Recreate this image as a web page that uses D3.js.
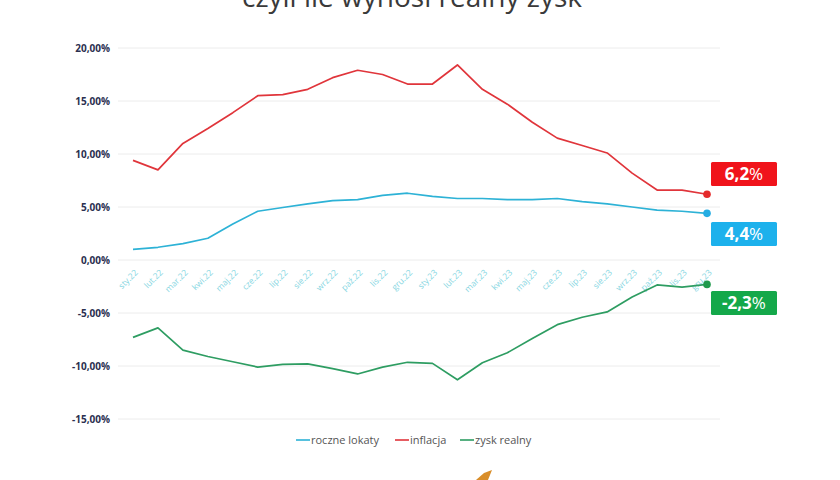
<!DOCTYPE html>
<html>
<head>
<meta charset="utf-8">
<script src="https://cdn.jsdelivr.net/npm/d3@7"></script>
<style>
  html, body { margin: 0; padding: 0; background: #fff; }
  svg { display: block; }
</style>
</head>
<body>
<svg id="chart" width="840" height="480"></svg>
<script>
const months = ["sty.22","lut.22","mar.22","kwi.22","maj.22","cze.22","lip.22","sie.22","wrz.22","paź.22","lis.22","gru.22",
                "sty.23","lut.23","mar.23","kwi.23","maj.23","cze.23","lip.23","sie.23","wrz.23","paź.23","lis.23","gru.23"];
const rocznelokaty = [1.0,1.2,1.55,2.05,3.4,4.6,4.95,5.3,5.6,5.7,6.1,6.3,6.0,5.8,5.8,5.7,5.7,5.8,5.5,5.3,5.0,4.7,4.6,4.4];
const inflacja = [9.4,8.5,11.0,12.4,13.9,15.5,15.6,16.1,17.2,17.9,17.5,16.6,16.6,18.4,16.1,14.7,13.0,11.5,10.8,10.1,8.2,6.6,6.6,6.2];
const zyskRealny = [-7.3,-6.4,-8.5,-9.1,-9.6,-10.1,-9.85,-9.8,-10.25,-10.75,-10.1,-9.65,-9.75,-11.3,-9.7,-8.75,-7.4,-6.1,-5.4,-4.9,-3.5,-2.35,-2.55,-2.3];
const yTicks = [20,15,10,5,0,-5,-10,-15];
const seriesNames = ["roczne lokaty","inflacja","zysk realny"];
const badgeLabels = ["4,4","6,2","-2,3"];
const titleText = "czyli ile wynosi realny zysk";

const svg = d3.select("#chart");
const font = "'Open Sans', 'Noto Sans', sans-serif";

const x = d3.scalePoint().domain(months).range([133, 707]);
const y = d3.scaleLinear().domain([-15, 20]).range([419, 48]);

// title (cut off at top, as in the reference)
svg.append("text").attr("x", 412).attr("y", 7).attr("text-anchor", "middle")
  .attr("font-family", font).attr("font-size", 28).attr("fill", "#3a3a3a").text(titleText);

// gridlines
svg.append("g").selectAll("line").data(yTicks).join("line")
  .attr("x1", 118).attr("x2", 720)
  .attr("y1", d => y(d)).attr("y2", d => y(d))
  .attr("stroke", "#ececec").attr("stroke-width", 1);

// y axis
const yAxis = d3.axisLeft(y).tickValues(yTicks).tickSize(0).tickPadding(0)
  .tickFormat(d => (d < 0 ? "-" : "") + Math.abs(d).toFixed(2).replace(".", ",") + "%");
const gy = svg.append("g").attr("transform", "translate(110,0)").call(yAxis);
gy.select(".domain").remove();
gy.selectAll("text").attr("font-family", font).attr("font-size", 10).attr("font-weight", 700)
  .attr("fill", "#2b3050").attr("dy", "0.35em");

// x axis labels
const xAxis = d3.axisBottom(x).tickSize(0).tickPadding(0);
const gx = svg.append("g").attr("transform", "translate(0,261)").call(xAxis);
gx.select(".domain").remove();
gx.selectAll("text")
  .attr("font-family", font).attr("font-size", 8.5).attr("fill", "#86d6e2")
  .attr("text-anchor", "end").attr("dy", 0).attr("y", 0)
  .attr("transform", "translate(5,12) rotate(-45)");

const series = [
  {name: seriesNames[0], values: rocznelokaty, color: "#2db2d6", dot: "#25ade3", badge: "#1db1ec", label: badgeLabels[0], by: 222},
  {name: seriesNames[1], values: inflacja, color: "#e0353b", dot: "#e52b2b", badge: "#f0141b", label: badgeLabels[1], by: 162},
  {name: seriesNames[2], values: zyskRealny, color: "#2e9d62", dot: "#1f9a4c", badge: "#14a84a", label: badgeLabels[2], by: 291}
];

const line = d3.line().x((d, i) => x(months[i])).y(d => y(d));

series.forEach(s => {
  svg.append("path").datum(s.values).attr("d", line)
    .attr("fill", "none").attr("stroke", s.color).attr("stroke-width", 1.7)
    .attr("stroke-linejoin", "round");
  const last = s.values.length - 1;
  svg.append("circle").attr("cx", x(months[last])).attr("cy", y(s.values[last]))
    .attr("r", 3.8).attr("fill", s.dot);
  const g = svg.append("g").attr("transform", `translate(711,${s.by})`);
  g.append("rect").attr("width", 66).attr("height", 24).attr("rx", 1.5).attr("fill", s.badge);
  const t = g.append("text").attr("x", 33).attr("y", 18).attr("text-anchor", "middle")
    .attr("font-family", font).attr("font-size", 17).attr("fill", "#fff");
  t.append("tspan").attr("font-weight", 700).text(s.label);
  t.append("tspan").attr("font-weight", 400).text("%");
});

// legend
const legendItems = [
  {name: seriesNames[0], color: series[0].color, x: 296},
  {name: seriesNames[1], color: series[1].color, x: 395},
  {name: seriesNames[2], color: series[2].color, x: 460}
];
const lg = svg.append("g").attr("transform", "translate(0,440)");
legendItems.forEach(it => {
  lg.append("line").attr("x1", it.x).attr("x2", it.x + 14).attr("y1", 0).attr("y2", 0)
    .attr("stroke", it.color).attr("stroke-width", 1.6);
  lg.append("text").attr("x", it.x + 15).attr("y", 4).attr("font-family", font)
    .attr("font-size", 11).attr("fill", "#555").text(it.name);
});

// cut-off logo fragment at bottom
svg.append("path").attr("d", "M476,480 L484,473 L492,470 L488,480 Z").attr("fill", "#d98e2a");
</script>
</body>
</html>
